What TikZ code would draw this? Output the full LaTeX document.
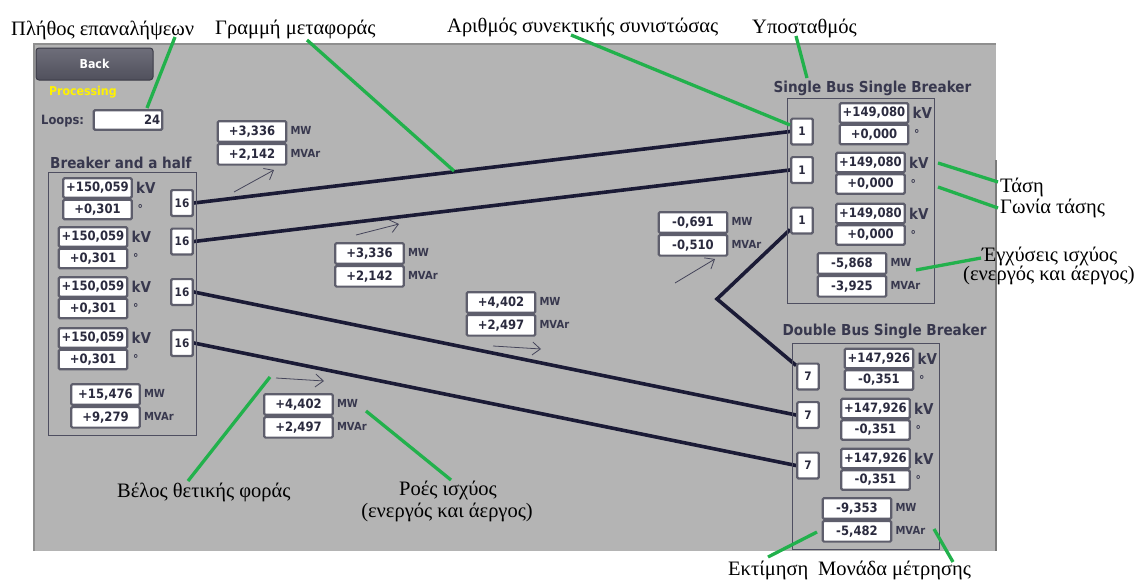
\documentclass[tikz,border=0pt]{standalone}
\usepackage{fontspec}
\setmainfont{Liberation Serif}
\newfontfamily\uifont[FakeStretch=0.9]{DejaVu Sans}
\usetikzlibrary{arrows.meta,calc}
\pgfdeclarelayer{panel}
\pgfdeclarelayer{wires}
\pgfsetlayers{panel,wires,main}

\definecolor{panelgray}{HTML}{B4B4B4}
\definecolor{paneledge}{HTML}{8F8F8F}
\definecolor{boxedge}{HTML}{5E5E6C}
\definecolor{valtext}{HTML}{2A2A3E}
\definecolor{uitext}{HTML}{38384E}
\definecolor{framec}{HTML}{4E4E60}
\definecolor{wirec}{HTML}{1B1B36}
\definecolor{arrowc}{HTML}{45455A}
\definecolor{callc}{HTML}{22B14C}
\definecolor{btntop}{HTML}{6E6E7A}
\definecolor{btnbot}{HTML}{50505C}
\definecolor{btnedge}{HTML}{3A3A46}

% voltage readout: name, centre x, centre y of upper box, voltage, angle
\newcommand\voltgroup[5]{%
  \node[valbox] (#1v) at (#2,#3) {#4};
  \node[valbox] (#1a) at (#2,#3+21.5) {#5};
  \node[kvunit] (#1vu) at ($(#1v.east)+(3,0)$) {kV};
  \node[degunit] (#1au) at ($(#1a.east)+(4.5,0)$) {°};
}
% power readout: name, centre x, centre y of upper box, P, Q
\newcommand\powergroup[5]{%
  \node[pwrbox] (#1p) at (#2,#3) {#4};
  \node[pwrbox] (#1q) at (#2,#3+22.8) {#5};
  \node[unit] (#1pu) at ($(#1p.east)+(3,-1)$) {MW};
  \node[unit] (#1qu) at ($(#1q.east)+(3,-1)$) {MVAr};
}

\begin{document}
\begin{tikzpicture}[x=1pt,y=-1pt,
  valbox/.style={draw=boxedge, line width=2.2pt, fill=white, rounded corners=1.2pt,
    minimum width=68.5pt, minimum height=19.4pt, inner sep=0pt, text=valtext,
    font=\uifont\bfseries\fontsize{12.9}{14}\selectfont},
  pwrbox/.style={valbox, minimum height=20.6pt},
  numbox/.style={valbox, minimum width=21.5pt, minimum height=25.8pt,
    font=\uifont\bfseries\fontsize{11.7}{13}\selectfont},
  unit/.style={anchor=west, inner sep=0pt, text=uitext,
    font=\uifont\bfseries\fontsize{11.1}{13}\selectfont},
  kvunit/.style={unit, font=\uifont\bfseries\fontsize{15}{17}\selectfont},
  degunit/.style={unit, font=\uifont\bfseries\fontsize{12}{13}\selectfont},
  title/.style={inner sep=0pt, text=uitext, font=\uifont\bfseries\fontsize{15.1}{17}\selectfont},
  frame/.style={draw=framec, line width=0.9pt},
  wire/.style={draw=wirec, line width=3.6pt},
  flow/.style={draw=arrowc, line width=0.8pt, -{Straight Barb[length=8pt,width=13pt]}},
  callout/.style={draw=callc, line width=3.3pt},
  note/.style={anchor=base west, inner sep=0pt, text=black, font=\fontsize{20.5}{24}\selectfont},
  notec/.style={note, anchor=base},
  backbtn/.style={draw=btnedge, line width=1pt, rounded corners=3pt, top color=btntop,
    bottom color=btnbot, minimum width=117pt, minimum height=32pt, text=white,
    font=\uifont\bfseries\fontsize{12.3}{14}\selectfont}
]
\useasboundingbox (0,0) rectangle (1136,581);

% screen panel
\begin{pgfonlayer}{panel}
  \fill[white] (0,0) rectangle (1136,581);
  \fill[panelgray] (34,44) rectangle (996,551);
  \draw[paneledge, line width=1.2pt] (34,551) -- (34,44) -- (996,44);
  \draw[paneledge!85!black, line width=1.5pt] (996,160) -- (996,551);
\end{pgfonlayer}

% header controls
\node[backbtn] (back) at (94.5,64) {Back};
\node[anchor=west, inner sep=0pt, text=yellow, font=\uifont\bfseries\fontsize{12.2}{14}\selectfont]
  (proc) at (49,92) {Processing};
\node[anchor=west, inner sep=0pt, text=uitext, font=\uifont\bfseries\fontsize{12.8}{14}\selectfont]
  (loopslbl) at (41,121) {Loops:};
\node[valbox, text width=64.5pt, align=right, inner xsep=2pt] (loops) at (128,120) {24};

% Breaker and a half substation
\node[title, anchor=west] (bahtitle) at (50,163) {Breaker and a half};
\draw[frame] (48,172) rectangle (196,435);
\voltgroup{ba1}{97.5}{188}{+150,059}{+0,301}
\voltgroup{ba2}{93}{237}{+150,059}{+0,301}
\voltgroup{ba3}{93}{287}{+150,059}{+0,301}
\voltgroup{ba4}{93}{338}{+150,059}{+0,301}
\powergroup{bap}{105.5}{394.5}{+15,476}{+9,279}
\node[numbox] (c16a) at (182,203) {16};
\node[numbox] (c16b) at (182,241.5) {16};
\node[numbox] (c16c) at (182,292) {16};
\node[numbox] (c16d) at (182,343) {16};

% Single Bus Single Breaker substation
\node[title] (sbtitle) at (872.5,88) {Single Bus Single Breaker};
\draw[frame] (787,98) rectangle (934,303);
\voltgroup{sb1}{874}{113}{+149,080}{+0,000}
\voltgroup{sb2}{870.5}{162.5}{+149,080}{+0,000}
\voltgroup{sb3}{870.5}{213.5}{+149,080}{+0,000}
\powergroup{sbp}{852}{263.5}{-5,868}{-3,925}
\node[numbox] (c1a) at (802,131.5) {1};
\node[numbox] (c1b) at (802,170) {1};
\node[numbox] (c1c) at (802,220.5) {1};

% Double Bus Single Breaker substation
\node[title] (dbtitle) at (884.5,331) {Double Bus Single Breaker};
\draw[frame] (792,343) rectangle (939,549);
\voltgroup{db1}{879}{358.5}{+147,926}{-0,351}
\voltgroup{db2}{875.5}{408.5}{+147,926}{-0,351}
\voltgroup{db3}{875.5}{458.5}{+147,926}{-0,351}
\powergroup{dbp}{857}{508.5}{-9,353}{-5,482}
\node[numbox] (c7a) at (808,376.5) {7};
\node[numbox] (c7b) at (808,415) {7};
\node[numbox] (c7c) at (808,465.5) {7};

% line flows
\powergroup{fa}{252}{131.5}{+3,336}{+2,142}
\powergroup{fb}{369.5}{253.5}{+3,336}{+2,142}
\powergroup{fc}{501}{302.5}{+4,402}{+2,497}
\powergroup{fd}{298.5}{404.5}{+4,402}{+2,497}
\powergroup{fe}{693}{222.5}{-0,691}{-0,510}

% positive direction arrows
\draw[flow] (234,192) -- (274,170);
\draw[flow] (356,235) -- (399,224);
\draw[flow] (493,346) -- (541,349);
\draw[flow] (276,378) -- (324,381);
\draw[flow] (675,283) -- (715,259);

% transmission lines
\coordinate (bend) at (717,299);
\begin{pgfonlayer}{wires}
  \draw[wire] (c16a.east) -- (c1a.west);
  \draw[wire] (c16b.east) -- (c1b.west);
  \draw[wire] (c16c.east) -- (c7b.west);
  \draw[wire] (c16d.east) -- (c7c.west);
  \draw[wire, line join=miter] ($(c1c.west)+(0,9)$) -- (bend) -- ($(c7a.west)+(0,-11)$);
\end{pgfonlayer}

% annotations
\node[note] (n1) at (11,35) {Πλήθος επαναλήψεων};
\node[note] (n2) at (215,34) {Γραμμή μεταφοράς};
\node[note] (n3) at (447,32) {Αριθμός συνεκτικής συνιστώσας};
\node[note] (n4) at (752,33) {Υποσταθμός};
\node[note] (n5) at (1000,192) {Τάση};
\node[note] (n6) at (1000,213) {Γωνία τάσης};
\node[note] (n7) at (982,261) {Έγχύσεις ισχύος};
\node[note] (n8) at (963,280) {(ενεργός και άεργος)};
\node[note] (n9) at (117,497) {Βέλος θετικής φοράς};
\node[notec] (n10) at (448,495) {Ροές ισχύος};
\node[notec] (n11) at (447,517) {(ενεργός και άεργος)};
\node[note] (n12) at (728,575) {Εκτίμηση};
\node[note] (n13) at (818,575) {Μονάδα μέτρησης};

% annotation leaders
\draw[callout] (175,37) -- (147,108);
\draw[callout] (307,40) -- (454,171);
\draw[callout] (571,35) -- (790,125);
\draw[callout] (796,36) -- (807,78);
\draw[callout] (938,163) -- (998,182);
\draw[callout] (938,187) -- (998,208);
\draw[callout] (916,270) -- (981,258);
\draw[callout] (270,377) -- (188,481);
\draw[callout] (366,411) -- (451,480);
\draw[callout] (817,532) -- (768,557);
\draw[callout] (934,529) -- (953,562);
\end{tikzpicture}
\end{document}
